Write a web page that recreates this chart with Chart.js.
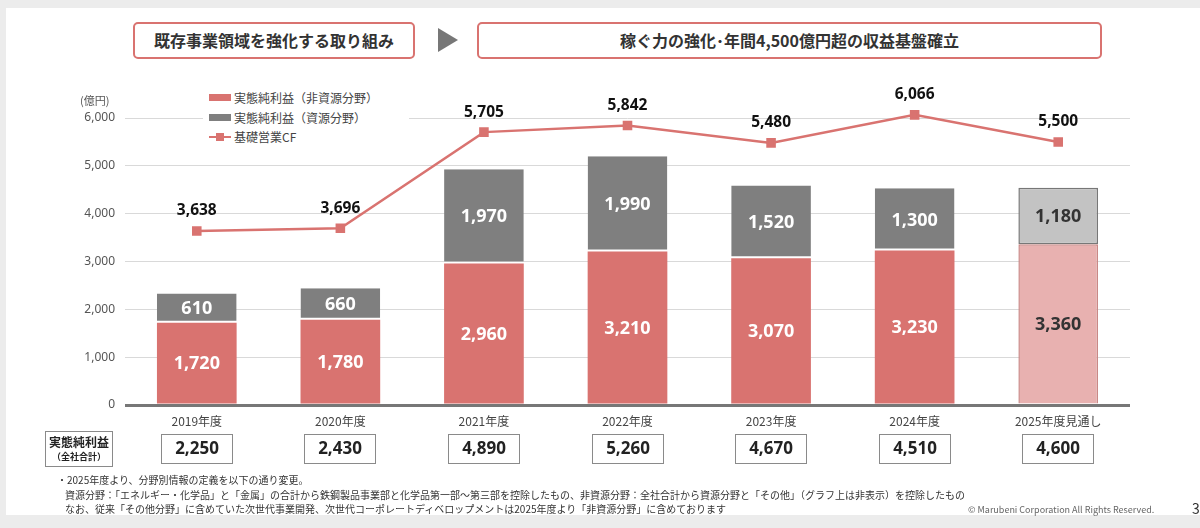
<!DOCTYPE html>
<html lang="ja">
  <head>
    <meta charset="UTF-8" />
    <title>実態純利益と基礎営業CF</title>
    <script src="https://cdn.jsdelivr.net/npm/chart.js@4.4.1/dist/chart.umd.min.js"></script>
    <style>
      html, body { margin: 0; padding: 0; }
      body {
        width: 1200px; height: 528px; overflow: hidden; position: relative;
        background: #ececec;
        font-family: 'Noto Sans CJK JP', 'Noto Sans', sans-serif; color: #333;
      }
      .slide { position: absolute; left: 6px; top: 8px; width: 1194px; height: 507px; background: #fff; }
      .head {
        position: absolute; top: 22px; height: 33px; border: 2px solid #d97370; border-radius: 5px;
        font-weight: bold; font-size: 16px; line-height: 33px; text-align: center; color: #333; background: #fff;
      }
      .arrow {
        position: absolute; left: 438px; top: 28px; width: 0; height: 0;
        border-top: 12px solid transparent; border-bottom: 12px solid transparent; border-left: 20px solid #777;
      }
      #chart-wrap { position: absolute; left: 0; top: 0; width: 1200px; height: 528px; }
      .unit { position: absolute; left: 80px; top: 92px; font-size: 11px; color: #555; }
      .legend {
        position: absolute; left: 203px; top: 88px; width: 200px; background: #fff;
        font-size: 12px; color: #444; line-height: 19.5px; padding: 0 0 0 6px;
      }
      .legend div { display: flex; align-items: center; }
      .sw { display: inline-block; width: 22px; height: 7px; margin-right: 3px; }
      .ln { position: relative; display: inline-block; width: 22px; height: 2px; background: #d97370; margin-right: 3px; }
      .ln::after { content: ''; position: absolute; left: 7px; top: -3px; width: 8px; height: 8px; background: #d97370; }
      .notes { position: absolute; left: 57px; top: 473px; font-size: 10px; line-height: 14.5px; color: #333; white-space: nowrap; }
      .notes .in { padding-left: 8px; }
      .copy { position: absolute; left: 968px; top: 503px; font-size: 9px; color: #666; }
      .page { position: absolute; left: 1192px; top: 498px; font-size: 14px; color: #333; }
    </style>
  </head>
  <body>
    <div class="slide"></div>
    <div class="head" style="left: 133px; width: 278px;">既存事業領域を強化する取り組み</div>
    <div class="arrow"></div>
    <div class="head" style="left: 477px; width: 621px;">稼ぐ力の強化･年間4,500億円超の収益基盤確立</div>

    <div id="chart-wrap"><canvas id="chart"></canvas></div>

    <div class="unit">(億円)</div>
    <div class="legend">
      <div><span class="sw" style="background:#d97370"></span>実態純利益（非資源分野）</div>
      <div><span class="sw" style="background:#7f7f7f"></span>実態純利益（資源分野）</div>
      <div><span class="ln"></span>基礎営業CF</div>
    </div>

    <div class="notes">
      <div>・2025年度より、分野別情報の定義を以下の通り変更。</div>
      <div class="in">資源分野：「エネルギー・化学品」と「金属」の合計から鉄鋼製品事業部と化学品第一部～第三部を控除したもの、非資源分野：全社合計から資源分野と「その他」（グラフ上は非表示）を控除したもの</div>
      <div class="in">なお、従来「その他分野」に含めていた次世代事業開発、次世代コーポレートディベロップメントは2025年度より「非資源分野」に含めております</div>
    </div>
    <div class="copy">© Marubeni Corporation All Rights Reserved.</div>
    <div class="page">3</div>

    <script>
      // data
      const years = ['2019年度', '2020年度', '2021年度', '2022年度', '2023年度', '2024年度', '2025年度見通し'];
      const nonResource = [1720, 1780, 2960, 3210, 3070, 3230, 3360];
      const resource = [610, 660, 1970, 1990, 1520, 1300, 1180];
      const basicCF = [3638, 3696, 5705, 5842, 5480, 6066, 5500];
      const totalProfit = [2250, 2430, 4890, 5260, 4670, 4510, 4600];
      const yTicks = [0, 1000, 2000, 3000, 4000, 5000, 6000];

      const RED = '#d97370';
      const GRAY = '#7f7f7f';
      const lastIdx = years.length - 1;
      const fmt = (v) => v.toLocaleString('en-US');
      const NUMFONT = "'Noto Sans', 'DejaVu Sans', sans-serif";

      // value labels in bars and above the line
      const valueLabels = {
        id: 'valueLabels',
        afterDatasetsDraw(chart) {
          const ctx = chart.ctx;
          ctx.save();
          ctx.textAlign = 'center';
          ctx.textBaseline = 'middle';
          chart.data.datasets.forEach((ds, di) => {
            const meta = chart.getDatasetMeta(di);
            meta.data.forEach((el, i) => {
              if (ds.type === 'line') {
                ctx.font = 'bold 15.5px ' + NUMFONT;
                ctx.fillStyle = '#111';
                ctx.fillText(fmt(ds.data[i]), el.x, el.y - 20);
              } else {
                ctx.font = 'bold 18px ' + NUMFONT;
                ctx.fillStyle = i === lastIdx ? '#333' : '#fff';
                ctx.fillText(fmt(ds.data[i]), el.x, (el.y + el.base) / 2 + 1);
              }
            });
          });
          ctx.restore();
        },
      };

      // boxed company totals under the x axis
      const totalsRow = {
        id: 'totalsRow',
        afterDraw(chart) {
          const ctx = chart.ctx;
          const x = chart.scales.x;
          ctx.save();
          ctx.strokeStyle = '#8a8a8a';
          ctx.lineWidth = 1;
          ctx.fillStyle = '#fff';
          ctx.fillRect(45.5, 431.5, 67, 35);
          ctx.strokeRect(45.5, 431.5, 67, 35);
          ctx.fillStyle = '#222';
          ctx.textAlign = 'center';
          ctx.textBaseline = 'middle';
          ctx.font = "bold 12px 'Noto Sans CJK JP'";
          ctx.fillText('実態純利益', 79, 442);
          ctx.font = "bold 9px 'Noto Sans CJK JP'";
          ctx.fillText('（全社合計）', 79, 457);
          totalProfit.forEach((v, i) => {
            const cx = Math.round(x.getPixelForValue(i));
            ctx.strokeRect(cx - 35.5, 434.5, 71, 29);
            ctx.font = 'bold 17px ' + NUMFONT;
            ctx.fillText(fmt(v), cx, 449.5);
          });
          ctx.restore();
        },
      };

      new Chart(document.getElementById('chart'), {
        data: {
          labels: years,
          datasets: [
            {
              type: 'line',
              label: '基礎営業CF',
              data: basicCF,
              borderColor: RED,
              backgroundColor: RED,
              borderWidth: 2.5,
              pointStyle: 'rect',
              pointRadius: 5,
              pointHoverRadius: 5,
              tension: 0,
              clip: false,
              order: 0,
            },
            {
              type: 'bar',
              label: '実態純利益（非資源分野）',
              data: nonResource,
              backgroundColor: nonResource.map((_, i) => (i === lastIdx ? '#e8b1b0' : RED)),
              borderColor: nonResource.map((_, i) => (i === lastIdx ? '#c98886' : RED)),
              borderWidth: nonResource.map((_, i) => (i === lastIdx ? 1.5 : 0)),
              barPercentage: 0.555,
              categoryPercentage: 1,
              stack: 's',
              order: 1,
            },
            {
              type: 'bar',
              label: '実態純利益（資源分野）',
              data: resource,
              backgroundColor: resource.map((_, i) => (i === lastIdx ? '#c3c3c3' : GRAY)),
              borderColor: resource.map((_, i) => (i === lastIdx ? '#777' : '#fff')),
              borderWidth: resource.map((_, i) => (i === lastIdx ? 1.5 : { bottom: 2 })),
              borderSkipped: false,
              barPercentage: 0.555,
              categoryPercentage: 1,
              stack: 's',
              order: 1,
            },
          ],
        },
        options: {
          responsive: true,
          maintainAspectRatio: false,
          animation: false,
          layout: { padding: { left: 0, right: 70, top: 118, bottom: 0 } },
          plugins: { legend: { display: false }, tooltip: { enabled: false } },
          scales: {
            x: {
              stacked: true,
              grid: { display: false },
              border: { display: false },
              ticks: { color: '#444', font: { size: 12, family: "'Noto Sans CJK JP'" }, padding: 1 },
              afterFit(scale) { scale.height = 123; },
            },
            y: {
              stacked: true,
              min: 0,
              max: 6000,
              afterBuildTicks(scale) { scale.ticks = yTicks.map((v) => ({ value: v })); },
              grid: {
                drawTicks: false,
                color: (c) => (c.tick && c.tick.value === 0 ? '#777' : '#d9d9d9'),
                lineWidth: (c) => (c.tick && c.tick.value === 0 ? 3 : 1),
              },
              border: { display: false },
              ticks: {
                color: '#555',
                font: { size: 12, family: NUMFONT },
                padding: 10,
                callback: (v) => fmt(v),
              },
              afterFit(scale) { scale.width = 125; },
            },
          },
        },
        plugins: [valueLabels, totalsRow],
      });
    </script>
  </body>
</html>
